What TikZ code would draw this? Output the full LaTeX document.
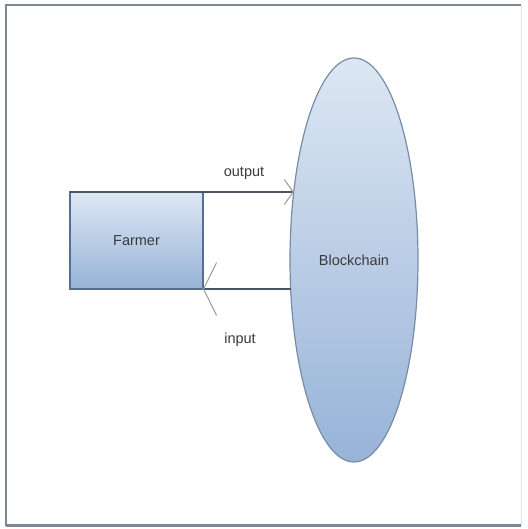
\documentclass[tikz,border=0pt]{standalone}
\usepackage{fontspec}
\setmainfont{Liberation Sans}
\usetikzlibrary{arrows.meta,shapes.geometric}
\definecolor{framegray}{HTML}{7D8894}
\definecolor{edgeblue}{HTML}{55708F}
\definecolor{linegray}{HTML}{4A5662}
\definecolor{tipgray}{HTML}{9A9A9A}
\definecolor{lighttop}{HTML}{DDE7F3}
\definecolor{darkbottom}{HTML}{97B3D8}
\definecolor{txtgray}{HTML}{3A3A3A}
\tikzset{
  labelfont/.style={font=\fontsize{14.5}{17}\selectfont, text=txtgray},
  boxnode/.style={rectangle, draw=edgeblue, line width=1.2pt, inner sep=0pt, outer sep=0pt,
    top color=lighttop, bottom color=darkbottom,
    minimum width=133pt, minimum height=97pt, labelfont},
  chainnode/.style={ellipse, draw=edgeblue!80, line width=1.2pt, inner sep=0pt, outer sep=0pt,
    top color=lighttop, bottom color=darkbottom,
    minimum width=128pt, minimum height=404pt, labelfont},
  flow/.style={draw=linegray, line width=1.3pt},
  outtip/.style={-{Straight Barb[length=9pt,width=25pt,color=tipgray,line width=1pt]}},
  intip/.style={-{Straight Barb[length=13pt,width=53pt,color=tipgray,line width=1pt]}},
  lbl/.style={labelfont, inner sep=0pt},
  framebar/.style={draw=framegray, line width=2pt}
}
\begin{document}
\begin{tikzpicture}[x=1pt,y=1pt]
  \useasboundingbox (0,0) rectangle (527,529);
  % frame around the sheet
  \draw[framebar] (6,3) -- (6,524) -- (521,524);
  \draw[framebar, line width=3pt] (6,3) -- (521,3);
  \draw[draw=framegray!25, line width=1pt] (521,3) -- (521,524);

  % the two parties
  \node[boxnode] (farmer) at (136.5,288.5) {Farmer};
  \node[chainnode] (chain) at (354,269) {Blockchain};

  % data flowing out of and back into the farmer
  \draw[flow, outtip] (farmer.north west) -- (farmer.north east) -- (farmer.north east -| chain.131);
  \draw[flow, intip] (farmer.south east -| chain.205) -- (farmer.south east);

  % flow labels
  \node[lbl] (outlbl) at (244,356) {output};
  \node[lbl] (inlbl) at (240,189) {input};
\end{tikzpicture}
\end{document}
